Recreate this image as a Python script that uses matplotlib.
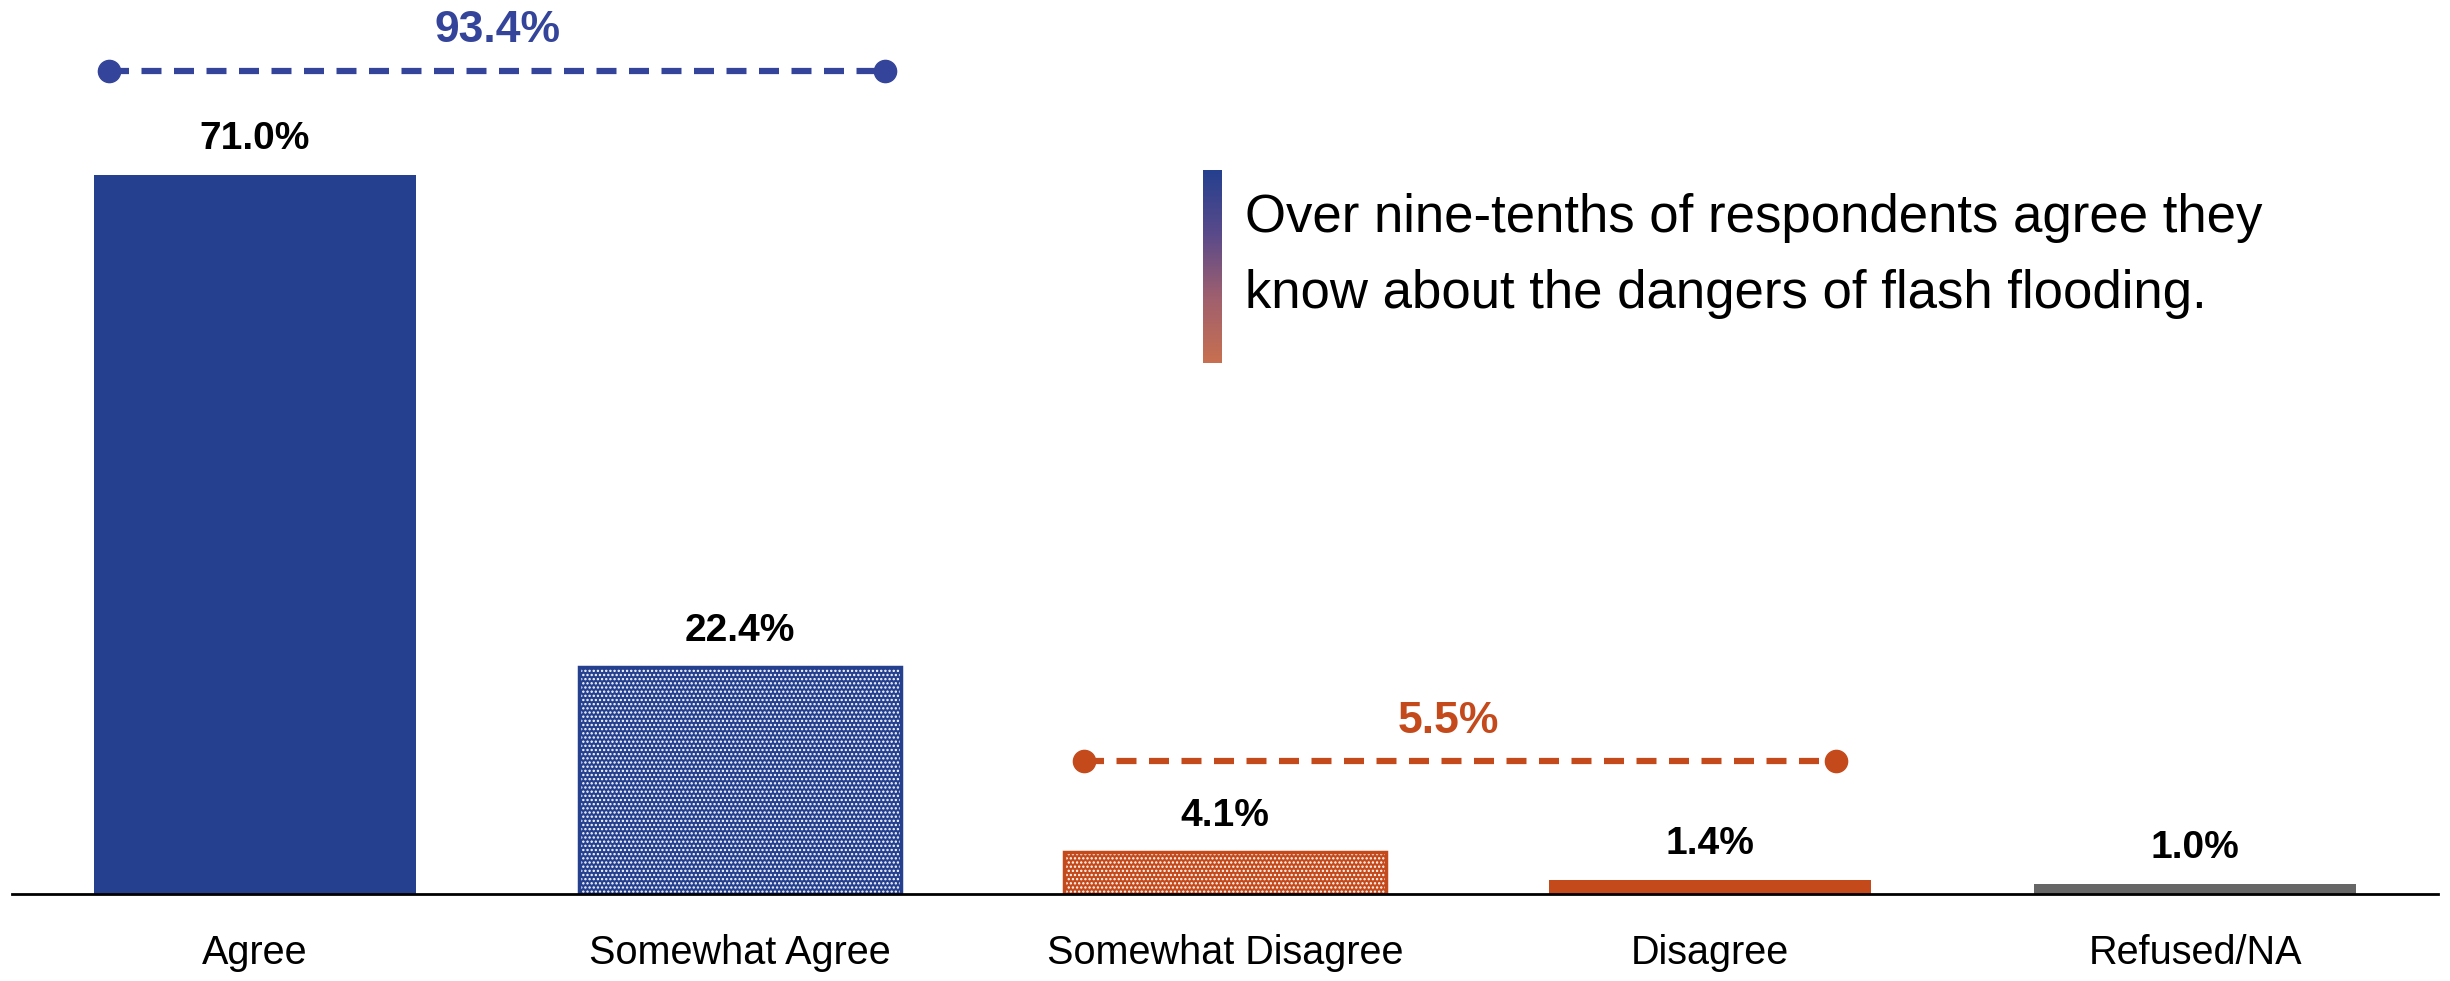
import matplotlib
matplotlib.use("Agg")
import matplotlib.pyplot as plt
import numpy as np
from matplotlib import font_manager as fm
from matplotlib.colors import LinearSegmentedColormap

categories = ["Agree", "Somewhat Agree", "Somewhat Disagree", "Disagree", "Refused/NA"]
values = [71.0, 22.4, 4.1, 1.4, 1.0]
value_labels = ["71.0%", "22.4%", "4.1%", "1.4%", "1.0%"]
agree_total_label = "93.4%"
disagree_total_label = "5.5%"
note_text = "Over nine-tenths of respondents agree they\nknow about the dangers of flash flooding."

names = {f.name for f in fm.fontManager.ttflist}
fam = "Liberation Sans Narrow" if "Liberation Sans Narrow" in names else "Liberation Sans"
plt.rcParams['font.family'] = [fam, 'DejaVu Sans']
plt.rcParams['hatch.linewidth'] = 1.1

BLUE = "#25408F"
BLUE2 = "#34449A"
ORANGE = "#C44A1C"
GREY = "#666666"
colors = [BLUE, BLUE, ORANGE, ORANGE, GREY]
hatched = [False, True, True, False, False]

fig = plt.figure(figsize=(24.5, 9.81), dpi=100)
ax = fig.add_axes([0.005, 0.0887, 0.99, 0.9113])
x = np.arange(len(categories))
w = 0.665
for i in range(len(categories)):
    ax.bar(x[i], values[i], width=w, color=colors[i], edgecolor=colors[i], linewidth=0, zorder=2)
    if hatched[i]:
        ax.bar(x[i], values[i], width=w, facecolor='none', edgecolor='white', hatch='....', linewidth=0, zorder=3)
        ax.bar(x[i], values[i], width=w, facecolor='none', edgecolor=colors[i], linewidth=2.5, zorder=4)
    ax.text(x[i], values[i] + 1.8, value_labels[i], ha='center', va='bottom', fontsize=28,
            fontweight='bold', color='black')

ax.set_xlim(-0.5, 4.5)
ax.set_ylim(0, 88.3)
for s in ['top', 'right', 'left']:
    ax.spines[s].set_visible(False)
ax.spines['bottom'].set_linewidth(2)
ax.spines['bottom'].set_zorder(5)
ax.set_yticks([])
ax.set_xticks(x)
ax.set_xticklabels(categories, fontsize=28.5)
ax.tick_params(axis='x', length=0, pad=29)

# brackets
dash = (0, (3.2, 2.0))
ax.plot([-0.30, 1.30], [81.3, 81.3], ls=dash, lw=4.5, color=BLUE2, zorder=3)
ax.plot([-0.30, 1.30], [81.3, 81.3], ls='none', marker='o', ms=16, color=BLUE2, zorder=4)
ax.text(0.5, 83.3, agree_total_label, ha='center', va='bottom', fontsize=32, fontweight='bold', color=BLUE2)

ax.plot([1.71, 3.26], [13.1, 13.1], ls=dash, lw=4.5, color=ORANGE, zorder=3)
ax.plot([1.71, 3.26], [13.1, 13.1], ls='none', marker='o', ms=16, color=ORANGE, zorder=4)
ax.text(2.46, 15.0, disagree_total_label, ha='center', va='bottom', fontsize=32, fontweight='bold', color=ORANGE)

# gradient bar
grad = np.linspace(0, 1, 256).reshape(-1, 1)
cmap = LinearSegmentedColormap.from_list("g", ["#25408F", "#5A4A8A", "#A0606E", "#C87050"])
gax = fig.add_axes([1203/2450, 1 - 363/981, 19/2450, 193/981])
gax.imshow(grad, aspect='auto', cmap=cmap)
gax.axis('off')

fig.text(1245/2450, 1 - 256/981, note_text, ha='left', va='center', fontsize=38,
         linespacing=1.65, color='black')

fig.savefig("out.png", dpi=100)
